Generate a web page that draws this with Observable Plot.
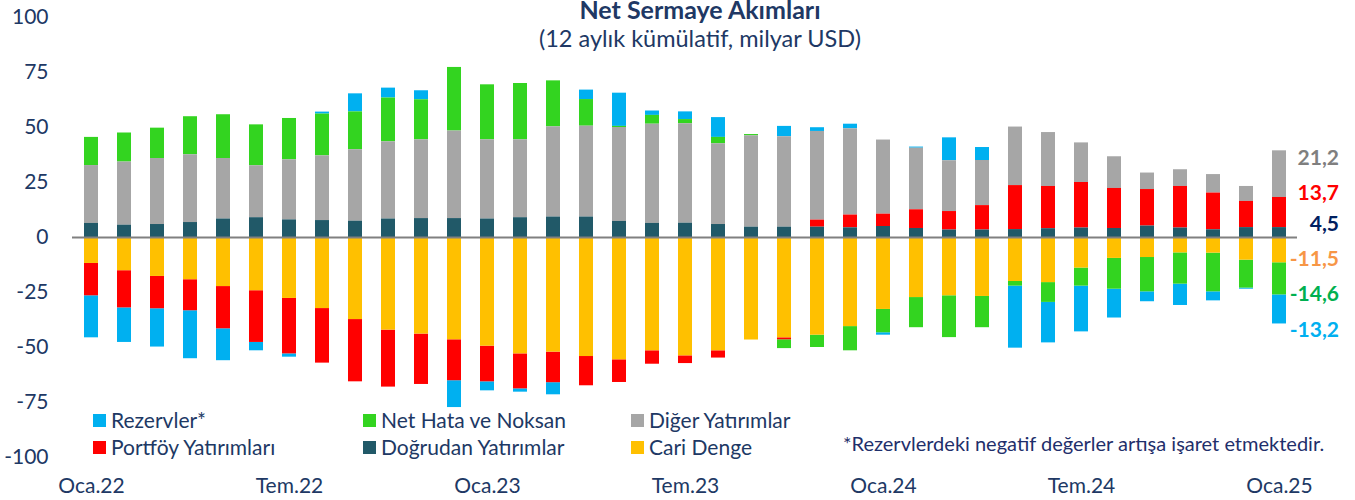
<!DOCTYPE html>
<html>
<head>
<meta charset="utf-8">
<script src="https://cdn.jsdelivr.net/npm/d3@7"></script>
<script src="https://cdn.jsdelivr.net/npm/@observablehq/plot@0.6"></script>
<style>
  body { margin: 0; background: #fff; }
  #wrap { position: relative; width: 1355px; height: 500px; font-family: Lato, "Open Sans", sans-serif; color: #203864; }
  .ov { position: absolute; white-space: nowrap; line-height: 1; }
  .sw { position: absolute; width: 13px; height: 13px; }
</style>
</head>
<body>
<div id="wrap"></div>
<script>
// ---- data (12-month cumulative, billion USD) ----
const months = ["Oca.22","Şub.22","Mar.22","Nis.22","May.22","Haz.22","Tem.22","Ağu.22","Eyl.22","Eki.22","Kas.22","Ara.22",
  "Oca.23","Şub.23","Mar.23","Nis.23","May.23","Haz.23","Tem.23","Ağu.23","Eyl.23","Eki.23","Kas.23","Ara.23",
  "Oca.24","Şub.24","Mar.24","Nis.24","May.24","Haz.24","Tem.24","Ağu.24","Eyl.24","Eki.24","Kas.24","Ara.24","Oca.25"];
const tickMonths = ["Oca.22","Tem.22","Oca.23","Tem.23","Oca.24","Tem.24","Oca.25"];
const yTicks = [-100,-75,-50,-25,0,25,50,75,100];

const dogrudan = [6.4,5.6,5.9,6.8,8.4,9.0,8.0,7.7,7.4,8.4,8.6,8.6, 8.4,9.0,9.3,9.3,7.3,6.4,6.5,5.9,4.7,4.7,4.7,4.4, 5.0,4.1,3.4,3.4,3.6,4.0,4.3,4.1,5.2,4.3,3.5,4.5,4.5];
const portfoy = [-14.7,-16.9,-14.7,-14.1,-19.2,-23.5,-25.2,-24.8,-28.3,-25.9,-22.9,-18.6, -16.2,-15.9,-13.9,-13.3,-10.3,-6.1,-3.5,-3.3,0,-0.9,3.2,5.8, 5.6,8.5,8.4,11.1,20.0,19.2,20.7,18.2,16.6,18.9,16.7,11.9,13.7];
const diger = [26.3,28.7,30.0,30.8,27.5,23.6,27.3,29.4,32.5,35.1,35.8,39.8, 36.0,35.4,41.0,41.3,42.7,45.1,45.2,36.7,41.5,41.1,40.3,39.2, 33.7,28.0,23.1,20.5,26.6,24.5,18.0,14.4,7.5,7.6,8.4,6.8,21.2];
const netHata = [12.8,13.2,13.8,17.3,19.9,18.6,18.8,19.0,17.2,19.9,18.2,28.9, 25.0,25.6,20.9,12.1,0.5,4.0,1.9,2.9,0.6,-4.0,-5.6,-11.0, -10.6,-13.7,-19.0,-14.2,-2.1,-9.0,-8.2,-14.0,-15.6,-14.2,-17.6,-12.7,-14.6];
const rezerv = [-19.1,-15.7,-17.4,-21.8,-14.5,-3.8,-1.5,0.9,8.2,4.5,4.1,-12.2, -4.1,-1.5,-5.5,4.3,15.1,2.0,3.5,9.0,0,4.7,1.7,2.1, -1.1,0.5,10.4,5.9,-28.2,-18.4,-20.8,-13.1,-4.5,-9.7,-4.1,-0.5,-13.2];
const cari = [-11.8,-15.1,-17.7,-19.2,-22.3,-24.2,-27.7,-32.3,-37.3,-42.1,-43.9,-46.5, -49.4,-52.9,-52.1,-54.1,-55.6,-51.5,-53.8,-51.5,-46.6,-45.6,-44.4,-40.5, -32.7,-27.3,-26.5,-26.8,-20.0,-20.5,-13.9,-9.5,-9.1,-7.0,-7.1,-10.3,-11.5];

const seriesNames = ["Rezervler*","Net Hata ve Noksan","Diğer Yatırımlar","Portföy Yatırımları","Doğrudan Yatırımlar","Cari Denge"];
const seriesColors = ["#00B0F0","#33D420","#A6A6A6","#FF0000","#215968","#FFC000"];
const seriesValues = [rezerv, netHata, diger, portfoy, dogrudan, cari];
// stacking order from zero outward
const stackOrder = ["Doğrudan Yatırımlar","Cari Denge","Portföy Yatırımları","Diğer Yatırımlar","Net Hata ve Noksan","Rezervler*"];

const title = "Net Sermaye Akımları";
const subtitle = "(12 aylık kümülatif, milyar USD)";
const note = "*Rezervlerdeki negatif değerler artışa işaret etmektedir.";

// ---- table ----
const rows = months.flatMap((m, i) => seriesNames.map((s, k) => ({month: m, series: s, value: seriesValues[k][i]})));

const chart = Plot.plot({
  width: 1355,
  height: 500,
  marginLeft: 72,
  marginRight: 58,
  marginTop: 17,
  marginBottom: 43,
  style: {fontFamily: "Lato, 'Open Sans', sans-serif", fontSize: "21px", color: "#203864", background: "transparent"},
  x: {domain: months, paddingInner: 0.59, paddingOuter: 0.295, label: null},
  y: {domain: [-100, 100], label: null},
  color: {domain: seriesNames, range: seriesColors},
  marks: [
    Plot.barY(rows, {x: "month", y: "value", fill: "series", order: stackOrder, inset: 0}),
    Plot.ruleY([0], {stroke: "#808080", strokeWidth: 2}),
    Plot.axisY({ticks: yTicks, tickFormat: d => String(d), tickSize: 0, tickPadding: 24, label: null, fontSize: 21}),
    Plot.axisX({ticks: tickMonths, tickSize: 0, tickPadding: 21, label: null, fontSize: 21})
  ]
});

const wrap = document.getElementById("wrap");
wrap.appendChild(chart);

function addText(txt, opts) {
  const d = document.createElement("div");
  d.className = "ov";
  d.textContent = txt;
  Object.assign(d.style, opts);
  wrap.appendChild(d);
  return d;
}

// title & subtitle
addText(title, {left: "0px", width: "1400px", textAlign: "center", top: "-3px", fontWeight: "bold", fontSize: "25px"});
addText(subtitle, {left: "0px", width: "1400px", textAlign: "center", top: "27px", fontSize: "23.5px"});

// legend (two rows, three columns)
const legendPos = [[93, 420], [363, 420], [631, 420], [93, 447], [363, 447], [631, 447]];
const legendOrder = ["Rezervler*","Net Hata ve Noksan","Diğer Yatırımlar","Portföy Yatırımları","Doğrudan Yatırımlar","Cari Denge"];
legendOrder.forEach((s, i) => {
  const [lx, ly] = legendPos[i];
  const sw = document.createElement("div");
  sw.className = "sw";
  sw.style.left = lx + "px";
  sw.style.top = (ly - 6.5) + "px";
  sw.style.background = seriesColors[seriesNames.indexOf(s)];
  wrap.appendChild(sw);
  addText(s, {left: (lx + 18) + "px", top: (ly - 11) + "px", fontSize: "21px"});
});

// footnote
addText(note, {left: "843px", top: (443 - 10.5) + "px", fontSize: "20px", color: "#1F2F6B"});

// last-value labels on the right
const last = months.length - 1;
const fmt = v => v.toFixed(1).replace(".", ",");
const endLabels = [
  [diger[last], "#7F7F7F", 157],
  [portfoy[last], "#FF0000", 192],
  [dogrudan[last], "#002060", 223],
  [cari[last], "#F79646", 258],
  [netHata[last], "#00B050", 293],
  [rezerv[last], "#00B0F0", 329]
];
endLabels.forEach(([v, c, y]) => {
  addText(fmt(v), {right: (1355 - 1339) + "px", top: (y - 11) + "px", fontSize: "21px", fontWeight: "bold", color: c, textAlign: "right"});
});
</script>
</body>
</html>
